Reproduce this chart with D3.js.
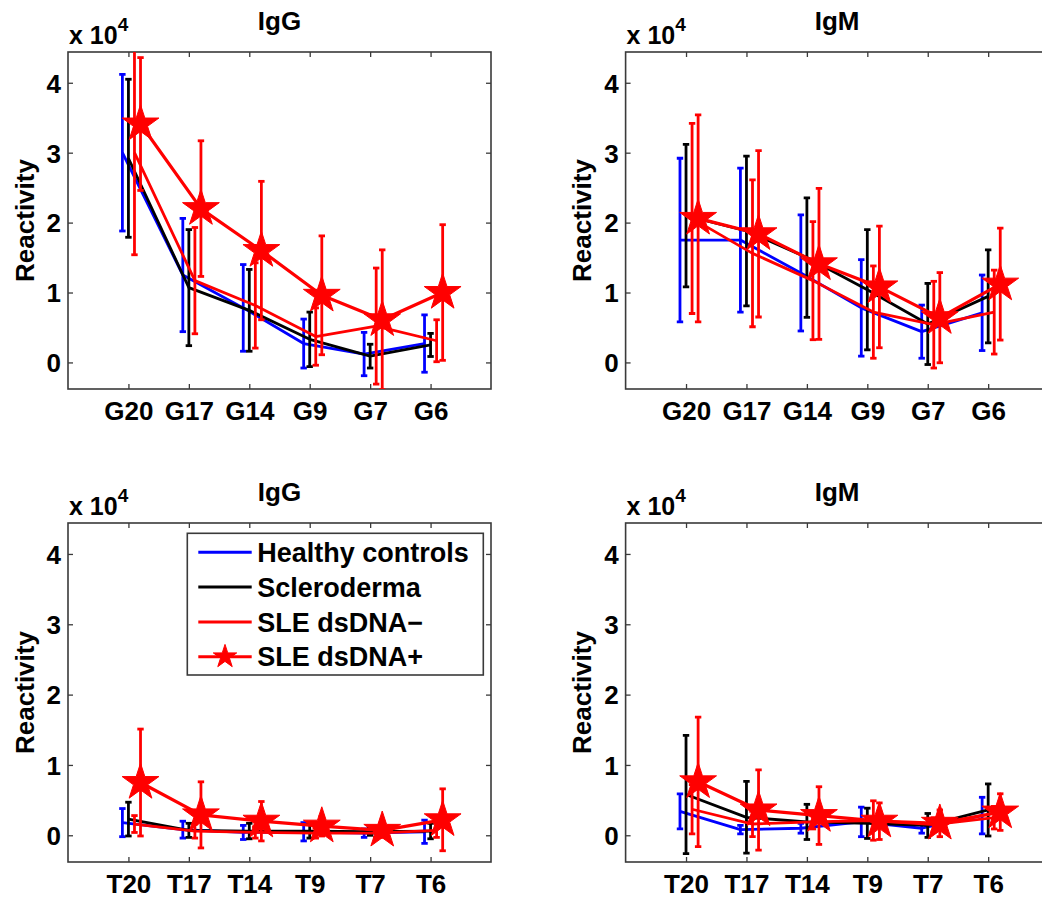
<!DOCTYPE html>
<html>
<head>
<meta charset="utf-8">
<script src="https://cdn.jsdelivr.net/npm/d3@7"></script>
<style>
  html, body { margin: 0; padding: 0; background: #ffffff; }
  svg { display: block; }
  text { font-family: "Liberation Sans", Arial, Helvetica, sans-serif; font-weight: bold; fill: #000; }
</style>
</head>
<body>
<script>
// ---------------- DATA (values in units of 10^4) ----------------
const categoriesG = ["G20", "G17", "G14", "G9", "G7", "G6"];
const categoriesT = ["T20", "T17", "T14", "T9", "T7", "T6"];
const seriesNames = ["Healthy controls", "Scleroderma", "SLE dsDNA\u2212", "SLE dsDNA+"];
const yTicks = [0, 1, 2, 3, 4];
const panelTitles = ["IgG", "IgM", "IgG", "IgM"];

// Panel 1: IgG, G oligos  (rows: Healthy, Scleroderma, SLE dsDNA-, SLE dsDNA+)
const igG_G_mean = [
  [3.00, 1.25, 0.78, 0.27, 0.12, 0.27],
  [2.92, 1.07, 0.745, 0.33, 0.09, 0.25],
  [3.00, 1.17, 0.815, 0.37, 0.52, 0.31],
  [3.41, 2.20, 1.60, 0.96, 0.61, 1.00]
];
const igG_G_err = [
  [1.12, 0.81, 0.62, 0.35, 0.31, 0.41],
  [1.13, 0.83, 0.585, 0.39, 0.17, 0.165],
  [1.46, 0.76, 0.61, 0.41, 0.83, 0.30],
  [0.95, 0.97, 0.99, 0.85, 1.00, 0.97]
];

// Panel 2: IgM, G oligos
const igM_G_mean = [
  [1.75, 1.75, 1.28, 0.78, 0.44, 0.71],
  [2.10, 1.88, 1.50, 1.04, 0.55, 0.945],
  [2.06, 1.56, 1.17, 0.72, 0.54, 0.72],
  [2.06, 1.84, 1.41, 1.08, 0.64, 1.12]
];
const igM_G_err = [
  [1.17, 1.03, 0.83, 0.69, 0.38, 0.54],
  [1.02, 1.07, 0.855, 0.86, 0.58, 0.665],
  [1.36, 1.05, 0.845, 0.66, 0.62, 0.60],
  [1.48, 1.19, 1.08, 0.87, 0.645, 0.80]
];

// Panel 3: IgG, T oligos
const igG_T_mean = [
  [0.18, 0.08, 0.04, 0.05, 0.03, 0.05],
  [0.23, 0.07, 0.06, 0.06, 0.05, 0.06],
  [0.16, 0.06, 0.04, 0.03, 0.03, 0.07],
  [0.75, 0.29, 0.20, 0.13, 0.07, 0.22]
];
const igG_T_err = [
  [0.20, 0.12, 0.10, 0.13, 0.06, 0.165],
  [0.24, 0.10, 0.11, 0.10, 0.05, 0.11],
  [0.12, 0.10, 0.08, 0.07, 0.06, 0.10],
  [0.76, 0.47, 0.28, 0.14, 0.10, 0.44]
];

// Panel 4: IgM, T oligos
const igM_T_mean = [
  [0.34, 0.08, 0.10, 0.19, 0.10, 0.28],
  [0.58, 0.255, 0.19, 0.17, 0.14, 0.36],
  [0.37, 0.16, 0.19, 0.21, 0.15, 0.25],
  [0.76, 0.36, 0.28, 0.20, 0.17, 0.33]
];
const igM_T_err = [
  [0.25, 0.06, 0.07, 0.21, 0.07, 0.26],
  [0.84, 0.51, 0.25, 0.215, 0.17, 0.37],
  [0.35, 0.18, 0.10, 0.28, 0.10, 0.16],
  [0.92, 0.57, 0.41, 0.26, 0.19, 0.26]
];

// ---------------- LAYOUT / STYLE ----------------
const W = 1042, H = 902;
const colors = ["#0000ff", "#000000", "#ff0000", "#ff0000"];
const lineW = [2.8, 2.8, 2.8, 3.2];
const xOffsets = [-0.1, 0, 0.1, 0.2];
const axisColor = "#3a3a3a";

const panels = [
  { cats: categoriesG, title: panelTitles[0], mean: igG_G_mean, err: igG_G_err, x0: 68,    y0: 52,  w: 423, h: 337 },
  { cats: categoriesG, title: panelTitles[1], mean: igM_G_mean, err: igM_G_err, x0: 625.6, y0: 52,  w: 423, h: 337 },
  { cats: categoriesT, title: panelTitles[2], mean: igG_T_mean, err: igG_T_err, x0: 68,    y0: 523, w: 423, h: 339, legend: true },
  { cats: categoriesT, title: panelTitles[3], mean: igM_T_mean, err: igM_T_err, x0: 625.6, y0: 523, w: 423, h: 339 }
];

const svg = d3.select("body").append("svg").attr("width", W).attr("height", H);
svg.append("rect").attr("width", W).attr("height", H).attr("fill", "#fff");

const star = d3.symbol().type(d3.symbolStar);

panels.forEach((p, pi) => {
  const g = svg.append("g").attr("transform", `translate(${p.x0},${p.y0})`);
  const x = d3.scaleLinear().domain([0, 7]).range([0, p.w]);
  const y = d3.scaleLinear().domain([-0.38, 4.44]).range([p.h, 0]);

  // clip
  const clipId = "clip" + pi;
  g.append("clipPath").attr("id", clipId)
    .append("rect").attr("x", 0).attr("y", 0).attr("width", p.w).attr("height", p.h);

  // axes with inward ticks
  const idx = d3.range(1, 7);
  const axB = g.append("g").attr("transform", `translate(0,${p.h})`)
    .call(d3.axisBottom(x).tickValues(idx).tickFormat(i => p.cats[i - 1]).tickSize(-5).tickSizeOuter(0).tickPadding(13));
  const axT = g.append("g")
    .call(d3.axisTop(x).tickValues(idx).tickFormat("").tickSize(-5).tickSizeOuter(0));
  const axL = g.append("g")
    .call(d3.axisLeft(y).tickValues(yTicks).tickFormat(d3.format("d")).tickSize(-5).tickSizeOuter(0).tickPadding(7));
  const axR = g.append("g").attr("transform", `translate(${p.w},0)`)
    .call(d3.axisRight(y).tickValues(yTicks).tickFormat("").tickSize(-5).tickSizeOuter(0));
  [axB, axT, axL, axR].forEach(a => {
    a.select(".domain").remove();
    a.selectAll(".tick line").attr("stroke", axisColor).attr("stroke-width", 1.3);
    a.selectAll("text").attr("font-size", 26).attr("font-weight", "bold")
      .attr("font-family", '"Liberation Sans", Arial, sans-serif').attr("fill", "#000");
  });
  axL.selectAll("text").attr("dy", "0.36em");

  g.append("rect").attr("x", 0).attr("y", 0).attr("width", p.w).attr("height", p.h)
    .attr("fill", "none").attr("stroke", axisColor).attr("stroke-width", 1.6);

  // titles
  g.append("text").attr("x", p.w / 2).attr("y", -22).attr("text-anchor", "middle")
    .attr("font-size", 26).text(p.title);
  const mult = g.append("text").attr("x", 1).attr("y", -8.5).attr("font-size", 25);
  mult.append("tspan").text("x 10");
  mult.append("tspan").attr("font-size", 19).attr("dy", -13).text("4");

  g.append("text")
    .attr("transform", `translate(-34.5,${p.h / 2}) rotate(-90)`)
    .attr("text-anchor", "middle").attr("font-size", 26).text("Reactivity");

  // data
  const dg = g.append("g").attr("clip-path", `url(#${clipId})`);
  p.mean.forEach((means, s) => {
    const errs = p.err[s];
    const pts = means.map((m, i) => ({ xv: i + 1 + xOffsets[s], m: m, e: errs[i] }));
    const sg = dg.append("g");
    // error bars
    pts.forEach(d => {
      const xx = x(d.xv), yt = y(d.m + d.e), yb = y(d.m - d.e);
      sg.append("line").attr("x1", xx).attr("x2", xx).attr("y1", yt).attr("y2", yb)
        .attr("stroke", colors[s]).attr("stroke-width", 2.8);
      [yt, yb].forEach(yy => sg.append("line").attr("x1", xx - 3.2).attr("x2", xx + 3.2)
        .attr("y1", yy).attr("y2", yy).attr("stroke", colors[s]).attr("stroke-width", 2.8));
    });
    // line
    sg.append("path").datum(pts)
      .attr("d", d3.line().x(d => x(d.xv)).y(d => y(d.m)))
      .attr("fill", "none").attr("stroke", colors[s]).attr("stroke-width", lineW[s])
      .attr("stroke-linejoin", "round");
    // star markers
    if (s === 3) {
      sg.selectAll("path.star").data(pts).enter().append("path").attr("class", "star")
        .attr("transform", d => `translate(${x(d.xv)},${y(d.m)})`)
        .attr("d", star.size(420)())
        .attr("fill", colors[s]).attr("stroke", colors[s]).attr("stroke-width", 1);
    }
  });

  // legend
  if (p.legend) {
    const lg = g.append("g").attr("transform", "translate(119.3,10.3)");
    lg.append("rect").attr("width", 296).attr("height", 141.7)
      .attr("fill", "#fff").attr("stroke", axisColor).attr("stroke-width", 1.6);
    seriesNames.forEach((name, s) => {
      const yy = 19 + s * 34.8;
      lg.append("line").attr("x1", 11).attr("x2", 64.4).attr("y1", yy).attr("y2", yy)
        .attr("stroke", colors[s]).attr("stroke-width", 3);
      if (s === 3) {
        lg.append("path").attr("transform", `translate(37.7,${yy})`)
          .attr("d", star.size(170)()).attr("fill", colors[s]).attr("stroke", colors[s]);
      }
      lg.append("text").attr("x", 70).attr("y", yy + 9.8).attr("font-size", 27).text(name);
    });
  }
});
</script>
</body>
</html>
